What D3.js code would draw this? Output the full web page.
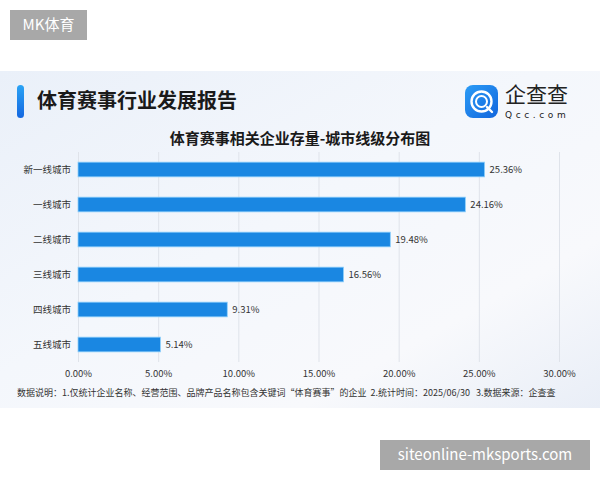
<!DOCTYPE html>
<html>
<head>
<meta charset="utf-8">
<script src="https://cdn.jsdelivr.net/npm/d3@7"></script>
<style>
  html, body { margin: 0; padding: 0; background: #fff; }
  svg { display: block; font-family: "Noto Sans CJK SC", "Noto Sans", sans-serif; }
</style>
</head>
<body>
<svg id="chart" width="600" height="480"></svg>
<script>
// Data
const categories = ['新一线城市', '一线城市', '二线城市', '三线城市', '四线城市', '五线城市'];
const shares = [25.36, 24.16, 19.48, 16.56, 9.31, 5.14];
const xTicks = [0, 5, 10, 15, 20, 25, 30];

const reportTitle = '体育赛事行业发展报告';
const chartTitle = '体育赛事相关企业存量-城市线级分布图';
const footnote = '数据说明：1.仅统计企业名称、经营范围、品牌产品名称包含关键词“体育赛事”的企业  2.统计时间：2025/06/30   3.数据来源：企查查';

const svg = d3.select('#chart');
const defs = svg.append('defs');

// Panel background gradient
const bg = defs.append('linearGradient').attr('id', 'panelBg')
  .attr('x1', 0).attr('y1', 0).attr('x2', 1).attr('y2', 1);
bg.append('stop').attr('offset', '0%').attr('stop-color', '#eaf0f9');
bg.append('stop').attr('offset', '45%').attr('stop-color', '#f4f7fc');
bg.append('stop').attr('offset', '75%').attr('stop-color', '#f8f9fc');
bg.append('stop').attr('offset', '100%').attr('stop-color', '#e9eef7');

const accent = defs.append('linearGradient').attr('id', 'accent')
  .attr('x1', 0).attr('y1', 0).attr('x2', 0).attr('y2', 1);
accent.append('stop').attr('offset', '0%').attr('stop-color', '#2aa3f5');
accent.append('stop').attr('offset', '100%').attr('stop-color', '#1467e0');

const logoGrad = defs.append('linearGradient').attr('id', 'logoGrad')
  .attr('x1', 0).attr('y1', 0).attr('x2', 1).attr('y2', 1);
logoGrad.append('stop').attr('offset', '0%').attr('stop-color', '#2b9cf6');
logoGrad.append('stop').attr('offset', '100%').attr('stop-color', '#1266dd');

svg.append('rect').attr('x', 0).attr('y', 71).attr('width', 600).attr('height', 337)
  .attr('fill', 'url(#panelBg)');

// Watermark labels
svg.append('rect').attr('x', 10).attr('y', 10).attr('width', 77).attr('height', 30).attr('fill', '#a8a8a8');
svg.append('text').attr('x', 48.5).attr('y', 30).attr('text-anchor', 'middle')
  .attr('fill', '#fff').attr('font-size', 15).text('MK体育');

svg.append('rect').attr('x', 380).attr('y', 440).attr('width', 210).attr('height', 30).attr('fill', '#a8a8a8');
svg.append('text').attr('x', 485).attr('y', 460).attr('text-anchor', 'middle')
  .attr('fill', '#fff').attr('font-size', 15).text('siteonline-mksports.com');

// Header
svg.append('rect').attr('x', 17).attr('y', 85).attr('width', 7).attr('height', 33).attr('rx', 3.5)
  .attr('fill', 'url(#accent)');
svg.append('text').attr('x', 37).attr('y', 108).attr('fill', '#1a1a1a')
  .attr('font-size', 20).attr('font-weight', 'bold').text(reportTitle);

// Logo
svg.append('rect').attr('x', 465).attr('y', 85).attr('width', 33).attr('height', 33).attr('rx', 8)
  .attr('fill', 'url(#logoGrad)');
svg.append('circle').attr('cx', 481.5).attr('cy', 101.5).attr('r', 10)
  .attr('fill', 'none').attr('stroke', '#fff').attr('stroke-width', 2.4);
svg.append('circle').attr('cx', 481.5).attr('cy', 101.5).attr('r', 5.5)
  .attr('fill', 'none').attr('stroke', '#fff').attr('stroke-width', 2);
svg.append('line').attr('x1', 487).attr('y1', 107).attr('x2', 492).attr('y2', 112)
  .attr('stroke', '#fff').attr('stroke-width', 2.4).attr('stroke-linecap', 'round');
svg.append('text').attr('x', 505).attr('y', 102).attr('fill', '#222')
  .attr('font-size', 21).text('企查查');
svg.append('text').attr('x', 505).attr('y', 118).attr('fill', '#222')
  .attr('font-size', 9).attr('letter-spacing', 3.6).attr('font-family', 'DejaVu Sans').text('Qcc.com');

// Chart title
svg.append('text').attr('x', 300).attr('y', 144).attr('text-anchor', 'middle')
  .attr('fill', '#1a1a1a').attr('font-size', 15).attr('font-weight', 'bold').text(chartTitle);

// Plot
const margin = { left: 78, top: 152 };
const width = 481;
const height = 210;

const x = d3.scaleLinear().domain([0, 30]).range([0, width]);
const y = d3.scaleBand().domain(categories).range([0, height]).paddingInner(0.58).paddingOuter(0.29);

const g = svg.append('g').attr('transform', `translate(${margin.left},${margin.top})`);

// Grid
g.append('g')
  .call(d3.axisBottom(x).tickValues(xTicks).tickSize(height).tickFormat(''))
  .call(ax => ax.select('.domain').remove())
  .call(ax => ax.selectAll('line').attr('stroke', '#dfe3ea').attr('stroke-width', 1));

// X axis labels
g.append('g').attr('transform', `translate(0,${height})`)
  .call(d3.axisBottom(x).tickValues(xTicks).tickSize(0).tickPadding(8).tickFormat(d => d.toFixed(2) + '%'))
  .call(ax => ax.select('.domain').remove())
  .call(ax => ax.selectAll('text').attr('fill', '#333').attr('font-size', 9.5).attr('font-family', 'Noto Sans CJK SC'));

// Y axis labels
g.append('g')
  .call(d3.axisLeft(y).tickSize(0).tickPadding(7))
  .call(ax => ax.select('.domain').remove())
  .call(ax => ax.selectAll('text').attr('fill', '#333').attr('font-size', 9.5).attr('font-family', 'Noto Sans CJK SC'));

const rows = categories.map((c, i) => ({ c, v: shares[i] }));

// Bars
g.selectAll('rect.bar')
  .data(rows)
  .join('rect')
  .attr('class', 'bar')
  .attr('x', 0)
  .attr('y', d => y(d.c))
  .attr('width', d => x(d.v))
  .attr('height', y.bandwidth())
  .attr('fill', '#1a87e2')
  .attr('stroke', '#8fd0fb')
  .attr('stroke-width', 0.8);

// Value labels
g.selectAll('text.val')
  .data(rows)
  .join('text')
  .attr('class', 'val')
  .attr('x', d => x(d.v) + 5)
  .attr('y', d => y(d.c) + y.bandwidth() / 2)
  .attr('dy', '0.35em')
  .attr('fill', '#333').attr('font-size', 9.5)
  .text(d => d.v.toFixed(2) + '%');

// Footnote
svg.append('text').attr('x', 17).attr('y', 396).attr('fill', '#333')
  .attr('font-size', 9).attr('xml:space', 'preserve').style('white-space', 'pre').text(footnote);
</script>
</body>
</html>
